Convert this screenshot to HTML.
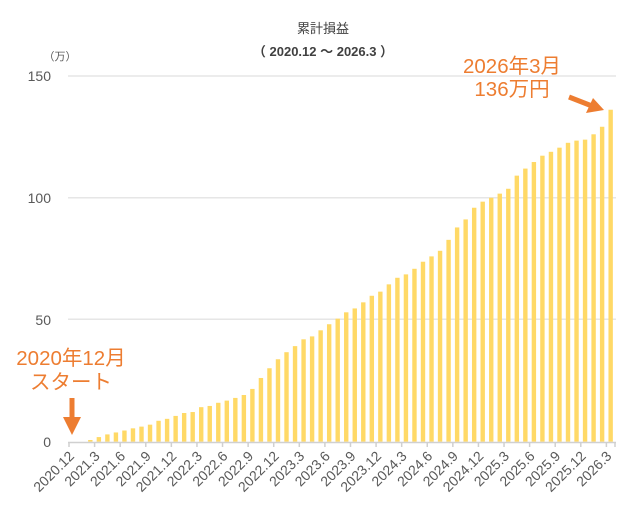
<!DOCTYPE html>
<html><head><meta charset="utf-8"><style>
html,body{margin:0;padding:0;background:#fff;}
svg{display:block;font-family:"Liberation Sans","Noto Sans CJK JP",sans-serif;}
</style></head><body>
<svg width="643" height="521" viewBox="0 0 643 521" xmlns="http://www.w3.org/2000/svg">
<text x="323" y="33" text-anchor="middle" font-size="13" fill="#404040">累計損益</text>
<text x="323" y="56" text-anchor="middle" font-size="13" font-weight="bold" fill="#404040">（ 2020.12 ～ 2026.3 ）</text>
<text x="60" y="60" text-anchor="middle" font-size="11" fill="#595959">（万）</text>
<g stroke="#e6e6e6" stroke-width="1.5">
<line x1="68" y1="76" x2="616" y2="76"/>
<line x1="68" y1="197.7" x2="616" y2="197.7"/>
<line x1="68" y1="319.3" x2="616" y2="319.3"/>
</g>
<g font-size="14" fill="#595959" text-anchor="end">
<text x="51" y="81">150</text>
<text x="51" y="203">100</text>
<text x="51" y="325">50</text>
<text x="51" y="447">0</text>
</g>
<g id="bars" fill="#FFD966"></g>
<line x1="68" y1="442.5" x2="616" y2="442.5" stroke="#d0d0d0" stroke-width="1.5"/>
<g id="ticks" stroke="#d0d0d0" stroke-width="1.5"></g>
<g id="labels" font-size="14" fill="#595959" text-anchor="end"></g>
<g fill="#ED7D31" font-size="20.5" text-anchor="middle">
<text x="512" y="73">2026年3月</text>
<text x="512" y="96">136万円</text>
<text x="71" y="365">2020年12月</text>
<text x="71" y="389">スタート</text>
</g>
<line x1="569" y1="97" x2="592" y2="106" stroke="#ED7D31" stroke-width="5"/>
<polygon points="604,110 586,113 593,98" fill="#ED7D31"/>
<line x1="72" y1="398" x2="72" y2="420" stroke="#ED7D31" stroke-width="5"/>
<polygon points="63,417 81,417 72,435" fill="#ED7D31"/>
<script>
var v=[0,0,0.7,1.9,3.0,3.8,4.6,5.5,6.2,7.0,8.6,9.4,10.6,11.8,12.2,14.2,14.7,16.0,16.9,18.0,19.2,21.7,26.2,30.2,33.9,36.8,39.3,42.1,43.3,45.8,48.3,50.6,53.2,54.8,57.3,60,61.7,64.7,67.4,68.8,71.1,74,76.2,78.5,83,88.1,91.4,96.2,98.7,100.3,102,104,109.4,112.3,115,117.6,119.2,120.9,122.9,123.8,124.2,126.4,129.5,136.5];
var ns="http://www.w3.org/2000/svg",b=document.getElementById("bars"),t=document.getElementById("ticks"),l=document.getElementById("labels");
var x0=69,w=8.53,base=441.7,s=2.432;
for(var k=0;k<64;k++){var cx=x0+w*(k+0.5),h=v[k]*s;
if(h>0){var r=document.createElementNS(ns,"rect");r.setAttribute("x",cx-2.2);r.setAttribute("y",base-h);r.setAttribute("width",4.4);r.setAttribute("height",h);b.appendChild(r);}
if(k%3==0){var tx=x0+w*k;var ln=document.createElementNS(ns,"line");ln.setAttribute("x1",tx);ln.setAttribute("x2",tx);ln.setAttribute("y1",442);ln.setAttribute("y2",447);t.appendChild(ln);
var m=12+k;var yr=2020+Math.floor(m/12),mo=m%12;if(mo==0){yr-=1;mo=12;}
var tt=document.createElementNS(ns,"text");tt.setAttribute("transform","translate("+(tx+6)+",457) rotate(-45)");tt.textContent=yr+"."+mo;l.appendChild(tt);}}
var ln=document.createElementNS(ns,"line");ln.setAttribute("x1",615);ln.setAttribute("x2",615);ln.setAttribute("y1",442);ln.setAttribute("y2",447);t.appendChild(ln);
</script>
</svg>
</body></html>
